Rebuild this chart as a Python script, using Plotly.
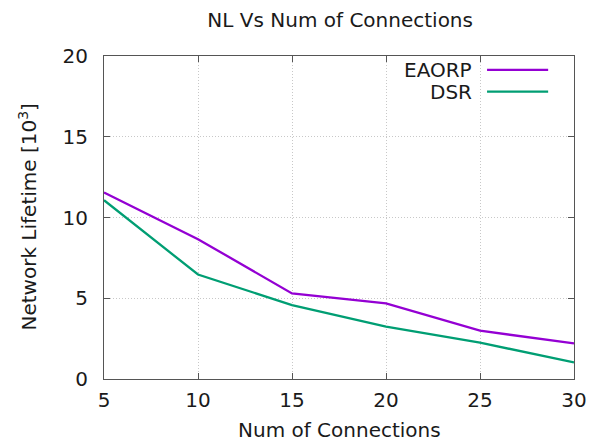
import plotly.graph_objects as go

connections = [5, 10, 15, 20, 25, 30]
eaorp = [11.55, 8.66, 5.3, 4.68, 2.99, 2.2]
dsr = [11.07, 6.47, 4.58, 3.24, 2.25, 1.03]
series_names = ["EAORP", "DSR"]
series_colors = ["#9400D3", "#009E73"]
x_ticks = [5, 10, 15, 20, 25, 30]
y_ticks = [0, 5, 10, 15, 20]
x_title = "Num of Connections"
y_title = "Network Lifetime [10<sup>3</sup>]"

FONT = "DejaVu Sans"
TXT = "#1a1a1a"

fig = go.Figure()
for name, vals, col in zip(series_names, [eaorp, dsr], series_colors):
    fig.add_trace(go.Scatter(x=connections, y=vals, mode="lines", name=name,
                             line=dict(color=col, width=2.3), showlegend=False))

# gnuplot-style legend: right-aligned text, sample line on the right
legend_y = [0.957, 0.890]
for name, col, ly in zip(series_names, series_colors, legend_y):
    fig.add_annotation(x=0.787, y=ly, xref="paper", yref="paper", text=name,
                       showarrow=False, xanchor="right", yanchor="middle",
                       font=dict(family=FONT, size=20, color=TXT))
    fig.add_shape(type="line", xref="paper", yref="paper",
                  x0=0.815, x1=0.945, y0=ly, y1=ly,
                  line=dict(color=col, width=2.3))

# axis titles
fig.add_annotation(x=0.5, y=0, xref="paper", yref="paper", text=x_title,
                   showarrow=False, xanchor="center", yanchor="middle", yshift=-51,
                   font=dict(family=FONT, size=20, color=TXT))
fig.add_annotation(x=0, y=0.5, xref="paper", yref="paper", text=y_title,
                   showarrow=False, xanchor="center", yanchor="middle", xshift=-77,
                   textangle=-90, font=dict(family=FONT, size=20, color=TXT))

axis_common = dict(
    showline=True, linecolor="#555555", linewidth=1, mirror="ticks",
    ticks="inside", ticklen=6, tickcolor="#555555",
    showgrid=True, gridcolor="#c8c8c8", griddash="1px,2px", gridwidth=1,
    zeroline=False, automargin=False,
    tickfont=dict(family=FONT, size=20, color=TXT),
)

# page body has an 8px margin, so the figure is offset by 8px
fig.update_layout(
    width=590, height=433,
    paper_bgcolor="white", plot_bgcolor="white",
    margin=dict(l=96, r=24, t=48, b=62),
    title=dict(text="NL Vs Num of Connections", x=0.563, xanchor="center",
               y=0.972, yanchor="middle",
               font=dict(family=FONT, size=20, color=TXT)),
    xaxis=dict(range=[5, 30], tickvals=x_ticks, ticklabelstandoff=3, **axis_common),
    yaxis=dict(range=[0, 20], tickvals=y_ticks, ticklabelstandoff=11, **axis_common),
)

fig.write_html("out.html")
